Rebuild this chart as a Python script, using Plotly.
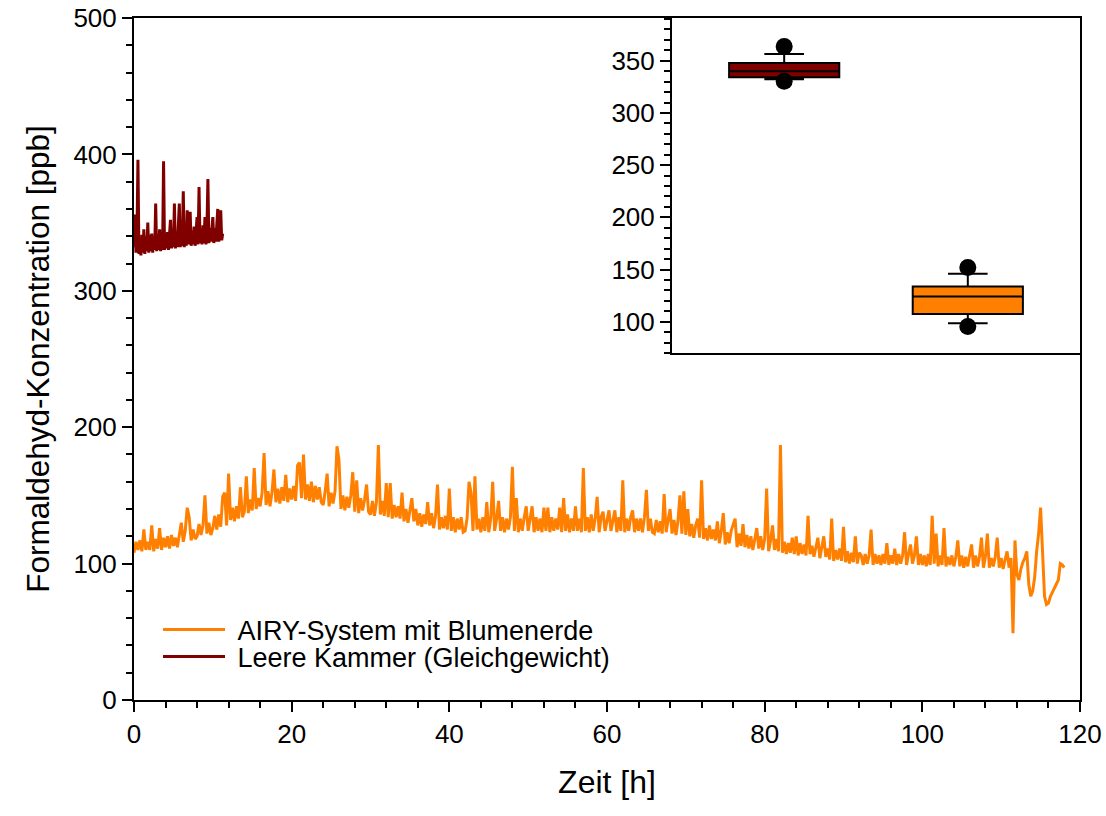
import plotly.graph_objects as go

FONT = "Liberation Sans, Arial, sans-serif"
ORANGE = "#ff8000"
DARKRED = "#800000"

# ---- data ----
# AIRY-System mit Blumenerde, one value every 0.25 h (rows = 2 h)
airy_step_h = 0.25
airy_ppb = [
    108, 116, 110, 117, 109, 125, 110, 116,   # 0 h
    110, 128, 109, 118, 111, 126, 110, 119,   # 2
    112, 120, 111, 121, 113, 119, 112, 122,   # 4
    130, 116, 124, 141, 134, 117, 125, 118,   # 6
    120, 129, 121, 128, 150, 122, 130, 121,   # 8
    126, 135, 125, 136, 127, 149, 152, 128,   # 10
    166, 132, 141, 131, 142, 133, 156, 134,   # 12
    138, 164, 137, 147, 139, 170, 140, 148,   # 14
    142, 152, 181, 143, 153, 142, 152, 169,   # 16
    145, 155, 144, 156, 146, 165, 145, 155,   # 18
    147, 157, 146, 172, 174, 148, 180, 147,   # 20
    158, 146, 160, 145, 157, 147, 156, 145,   # 22
    143, 153, 166, 142, 152, 144, 153, 186,   # 24
    176, 140, 150, 139, 149, 141, 150, 167,   # 26
    138, 161, 137, 148, 139, 147, 158, 138,   # 28
    136, 146, 135, 145, 187, 136, 146, 135,   # 30
    159, 134, 159, 133, 143, 134, 142, 133,   # 32
    152, 131, 140, 130, 139, 148, 131, 140,   # 34
    128, 137, 127, 136, 129, 145, 128, 137,   # 36
    126, 135, 158, 125, 134, 126, 135, 125,   # 38
    155, 124, 134, 123, 133, 125, 134, 123,   # 40
    124, 133, 160, 152, 124, 164, 125, 133,   # 42
    123, 134, 124, 145, 123, 133, 160, 124,   # 44
    133, 146, 124, 134, 123, 133, 125, 134,   # 46
    171, 124, 148, 123, 133, 124, 134, 142,   # 48
    124, 133, 142, 123, 134, 124, 133, 123,   # 50
    141, 124, 141, 123, 134, 124, 133, 125,   # 52
    141, 123, 148, 124, 136, 123, 133, 124,   # 54
    142, 124, 133, 123, 170, 124, 134, 123,   # 56
    136, 124, 133, 149, 123, 134, 138, 124,   # 58
    133, 139, 124, 133, 139, 123, 134, 124,   # 60
    161, 123, 133, 124, 134, 139, 123, 133,   # 62
    124, 133, 123, 134, 154, 124, 133, 123,   # 64
    122, 132, 123, 131, 122, 151, 123, 132,   # 66
    140, 122, 132, 121, 131, 150, 122, 153,   # 68
    121, 140, 120, 129, 119, 128, 133, 119,   # 70
    161, 118, 126, 117, 128, 118, 125, 117,   # 72
    131, 115, 124, 137, 114, 123, 115, 124,   # 74
    129, 133, 112, 122, 113, 129, 112, 121,   # 76
    111, 120, 110, 119, 126, 111, 120, 110,   # 78
    118, 155, 109, 117, 128, 110, 118, 109,   # 80
    187, 108, 116, 107, 115, 108, 119, 107,   # 82
    120, 106, 115, 107, 114, 106, 135, 107,   # 84
    113, 105, 112, 119, 104, 113, 120, 105,   # 86
    111, 103, 133, 102, 110, 103, 111, 102,   # 88
    127, 101, 109, 100, 108, 101, 120, 100,   # 90
    108, 106, 99, 107, 100, 106, 125, 99,     # 92
    107, 100, 106, 99, 107, 100, 115, 99,     # 94
    106, 100, 111, 99, 107, 100, 106, 123,    # 96
    99, 107, 114, 100, 106, 120, 99, 107,     # 98
    99, 106, 98, 107, 99, 135, 100, 122,      # 100
    98, 106, 99, 126, 98, 105, 99, 106,       # 102
    98, 105, 117, 98, 106, 97, 105, 98,       # 104
    105, 114, 97, 106, 98, 105, 119, 97,      # 106
    105, 122, 97, 104, 98, 105, 119, 97,      # 108
    104, 96, 103, 109, 97, 104, 49, 117,      # 110
    92, 88, 96, 101, 104, 109, 85, 76,        # 112
    80, 90, 109, 122, 141, 105, 76, 70,       # 114
    71, 76, 79, 82, 84, 88, 100, 99,          # 116
    97,                                       # 118
]

# Leere Kammer (Gleichgewicht), one value every 0.125 h
empty_step_h = 0.125
empty_ppb = [
    332, 356, 328, 340, 396, 327, 339, 326, 341, 328,
    345, 327, 340, 329, 350, 328, 341, 329, 342, 328,
    340, 330, 364, 329, 341, 330, 345, 329, 342, 330,
    395, 330, 342, 331, 343, 330, 341, 352, 331, 342,
    332, 364, 331, 343, 332, 345, 364, 332, 343, 333,
    373, 332, 344, 333, 359, 334, 343, 358, 333, 344,
    334, 347, 333, 344, 354, 334, 376, 335, 344, 334,
    348, 335, 354, 334, 345, 382, 335, 346, 336, 345,
    354, 335, 346, 336, 345, 360, 336, 345, 359, 337,
    342,
]

# box plot statistics (inset)
box_pos = [1, 2]
box_q1 = [334.3, 107.4]
box_median = [340.0, 124.1]
box_q3 = [347.8, 133.8]
box_low = [332.3, 98.4]
box_high = [356.5, 146.0]
box_p95 = [363.8, 152.0]
box_p5 = [330.4, 95.5]
box_colors = [DARKRED, ORANGE]

airy_t = [i * airy_step_h for i in range(len(airy_ppb))]
empty_t = [i * empty_step_h for i in range(len(empty_ppb))]

NBSP = "\u00a0"

fig = go.Figure()
fig.add_trace(go.Scatter(x=airy_t, y=airy_ppb, mode="lines",
                         line=dict(color=ORANGE, width=3),
                         name=NBSP + "AIRY-System mit Blumenerde",
                         legend="legend"))
fig.add_trace(go.Scatter(x=empty_t, y=empty_ppb, mode="lines",
                         line=dict(color=DARKRED, width=3),
                         name=NBSP + "Leere Kammer (Gleichgewicht)",
                         legend="legend2"))

for i in range(len(box_pos)):
    fig.add_trace(go.Box(
        x=[box_pos[i]], q1=[box_q1[i]], median=[box_median[i]], q3=[box_q3[i]],
        lowerfence=[box_low[i]], upperfence=[box_high[i]],
        fillcolor=box_colors[i], line=dict(color="black", width=2),
        whiskerwidth=0.36, width=0.6, boxpoints=False,
        xaxis="x2", yaxis="y2", showlegend=False, hoverinfo="skip"))

fig.add_trace(go.Scatter(
    x=box_pos + box_pos, y=box_p95 + box_p5, mode="markers",
    marker=dict(color="black", size=17), xaxis="x2", yaxis="y2",
    showlegend=False, hoverinfo="skip"))

axis_common = dict(showline=True, linecolor="black", linewidth=2, mirror=True,
                   showgrid=False, zeroline=False, automargin=False,
                   ticklabeloverflow="allow",
                   tickfont=dict(family=FONT, size=26, color="black"))

legend_common = dict(xanchor="left", yanchor="middle", bgcolor="rgba(0,0,0,0)",
                     font=dict(family=FONT, size=27, color="black"),
                     itemwidth=62, borderwidth=0)

fig.update_layout(
    width=1106, height=816,
    margin=dict(l=134, r=26, t=18, b=116, autoexpand=False),
    paper_bgcolor="white", plot_bgcolor="white",
    font=dict(family=FONT, color="black"),
    xaxis=dict(domain=[0, 1], range=[0, 120], dtick=20, tick0=0,
               ticks="outside", ticklen=10, tickwidth=1.5, tickcolor="black",
               minor=dict(dtick=4, tick0=0, ticks="outside", ticklen=6,
                          tickwidth=1.5, tickcolor="black"),
               title=dict(text="Zeit [h]", font=dict(family=FONT, size=32),
                          standoff=22),
               **axis_common),
    yaxis=dict(domain=[0, 1], range=[0, 500], dtick=100, tick0=0,
               ticks="outside", ticklen=10, tickwidth=1.5, tickcolor="black",
               minor=dict(dtick=20, tick0=0, ticks="outside", ticklen=6,
                          tickwidth=1.5, tickcolor="black"),
               title=dict(text="Formaldehyd-Konzentration [ppb]",
                          font=dict(family=FONT, size=31.5), standoff=14),
               **axis_common),
    xaxis2=dict(domain=[0.5687, 1], anchor="y2", range=[0.389, 2.611],
                showticklabels=False, ticks="", **axis_common),
    yaxis2=dict(domain=[0.5088, 1], anchor="x2", range=[70, 391], dtick=50,
                tick0=0, ticks="outside", ticklen=10, tickwidth=1.5,
                tickcolor="black",
                minor=dict(dtick=10, tick0=0, ticks="outside", ticklen=6,
                           tickwidth=1.5, tickcolor="black"),
                **axis_common),
    legend=dict(x=0.0254, y=0.1026, **legend_common),
    legend2=dict(x=0.0254, y=0.063, **legend_common),
    showlegend=True,
    hovermode=False,
)

# remove the browser's default 8 px page margin so the figure fills the window
fig.write_html("out.html",
               config={"displayModeBar": False},
               post_script="document.body.style.margin='0px';")
